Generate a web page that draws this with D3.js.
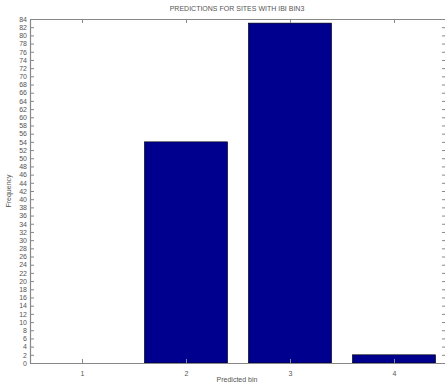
<!DOCTYPE html>
<html>
<head>
<meta charset="utf-8">
<script src="https://cdn.jsdelivr.net/npm/d3@7"></script>
<style>
  html, body { margin: 0; padding: 0; background: #fff; }
  svg { display: block; }
  text { font-family: "Liberation Sans", Arial, sans-serif; fill: #555; }
</style>
</head>
<body>
<script>
// Predicted bin counts for sites in IBI bin 3
const bins = [1, 2, 3, 4];
const frequency = [0, 54, 83, 2];
const yTicks = d3.range(0, 85, 2);
const titleText = "PREDICTIONS FOR SITES WITH IBI BIN3";
const xLabel = "Predicted bin";
const yLabel = "Frequency";

const W = 445, H = 388;
const margin = { top: 19, right: -1, bottom: 25, left: 30 };
const innerW = W - margin.left - margin.right;
const innerH = H - margin.top - margin.bottom;

const svg = d3.select("body").append("svg")
  .attr("width", W).attr("height", H);

const g = svg.append("g")
  .attr("transform", `translate(${margin.left},${margin.top})`);

const x = d3.scaleLinear().domain([0.5, 4.5]).range([0, innerW]);
const y = d3.scaleLinear().domain([0, 84]).range([innerH, 0]);
const barW = x(1.4) - x(0.6);

// bars
g.selectAll("rect.bar")
  .data(bins.map((b, i) => ({ b, v: frequency[i] })))
  .join("rect")
  .attr("class", "bar")
  .attr("x", d => x(d.b) - barW / 2)
  .attr("y", d => y(d.v))
  .attr("width", barW)
  .attr("height", d => innerH - y(d.v))
  .attr("fill", "#00008f")
  .attr("stroke", "#000")
  .attr("stroke-width", 0.6);

const axisColor = "#888";
const tickLen = 4;

// bottom axis
const xAxis = g.append("g")
  .attr("transform", `translate(0,${innerH})`)
  .call(d3.axisBottom(x).tickValues(bins).tickFormat(d3.format("d"))
    .tickSizeInner(-tickLen).tickSizeOuter(0).tickPadding(8));
// top axis (ticks only)
const xTop = g.append("g")
  .call(d3.axisTop(x).tickValues(bins).tickFormat("")
    .tickSizeInner(-tickLen).tickSizeOuter(0));
// left axis
const yAxis = g.append("g")
  .call(d3.axisLeft(y).tickValues(yTicks).tickFormat(d3.format("d"))
    .tickSizeInner(-tickLen).tickSizeOuter(0).tickPadding(3));
// right axis (ticks only)
const yRight = g.append("g")
  .attr("transform", `translate(${innerW},0)`)
  .call(d3.axisRight(y).tickValues(yTicks).tickFormat("")
    .tickSizeInner(-tickLen).tickSizeOuter(0));

[xAxis, xTop, yAxis, yRight].forEach(a => {
  a.select(".domain").attr("stroke", axisColor).attr("stroke-width", 1.2);
  a.selectAll(".tick line").attr("stroke", axisColor);
  a.selectAll(".tick text")
    .attr("font-size", 7)
    .attr("fill", "#555")
    .attr("font-family", "Liberation Sans, Arial, sans-serif");
});

// title
svg.append("text")
  .attr("x", margin.left + innerW / 2 - 1)
  .attr("y", 11)
  .attr("text-anchor", "middle")
  .attr("font-size", 7)
  .text(titleText);

// x label
svg.append("text")
  .attr("x", margin.left + innerW / 2 - 1)
  .attr("y", 382)
  .attr("text-anchor", "middle")
  .attr("font-size", 7)
  .text(xLabel);

// y label
svg.append("text")
  .attr("transform", `translate(11,${margin.top + innerH / 2}) rotate(-90)`)
  .attr("text-anchor", "middle")
  .attr("font-size", 7)
  .text(yLabel);
</script>
</body>
</html>
